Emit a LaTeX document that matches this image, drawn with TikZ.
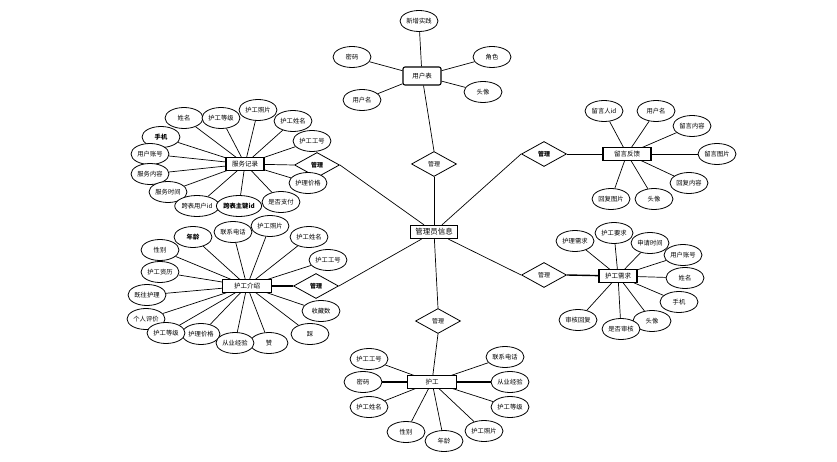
\documentclass[tikz,border=0pt]{standalone}
\usepackage{fontspec}
\newfontfamily\cjk{Noto Sans CJK SC}
\usetikzlibrary{shapes.geometric,backgrounds}
\begin{document}
\begin{tikzpicture}[x=1pt,y=-1pt,
  attr/.style={ellipse,draw,fill=white,line width=0.8pt,minimum width=38pt,minimum height=21pt,inner sep=0.3pt,font=\cjk\fontsize{6.3}{7}\selectfont},
  battr/.style={attr,font=\cjk\bfseries\fontsize{6.3}{7}\selectfont},
  ent/.style={rectangle,draw,fill=white,line width=1.1pt,minimum width=38pt,minimum height=13pt,inner sep=1pt,font=\cjk\fontsize{6.5}{7}\selectfont},
  rel/.style={diamond,draw,fill=white,line width=0.8pt,minimum width=45pt,minimum height=25pt,inner sep=0pt,font=\cjk\fontsize{6}{7}\selectfont},
  conn/.style={line width=0.7pt},
  tconn/.style={line width=1.4pt}]
\useasboundingbox (0,0) rectangle (837,462);

% admin
\node[ent,line width=1.2pt,minimum width=47pt,font=\cjk\fontsize{7.5}{8}\selectfont] (adm) at (434,232) {管理员信息};

% user table
\node[ent,rounded corners=2pt,minimum height=18pt] (ut) at (422,76) {用户表};
\node[attr] (u1) at (419,21) {新增实践};
\node[attr] (u2) at (352,57) {密码};
\node[attr] (u3) at (362,100) {用户名};
\node[attr] (u4) at (492,57) {角色};
\node[attr] (u5) at (483,92) {头像};
\node[rel] (d1) at (434,164) {管理};

% service record
\node[ent] (sr) at (245,164) {服务记录};
\node[rel,font=\cjk\bfseries\fontsize{6}{7}\selectfont] (d2) at (317,165) {管理};
\node[attr] (s1) at (184,118) {姓名};
\node[attr] (s2) at (221,118) {护工等级};
\node[attr] (s4) at (293,121) {护工姓名};
\node[attr] (s3) at (258,110) {护工照片};
\node[attr] (s5) at (312,141) {护工工号};
\node[battr] (s6) at (161,137) {手机};
\node[attr] (s7) at (150,154) {用户账号};
\node[attr] (s8) at (150,174) {服务内容};
\node[attr] (s9) at (168,192) {服务时间};
\node[attr] (s10) at (308,183) {护理价格};
\node[attr] (s11) at (197,206) {跨表用户id};
\node[attr] (s13) at (281,202) {是否支付};
\node[battr] (s12) at (239,206) {跨表主键id};

% nurse introduction
\node[ent,minimum width=49pt] (ji) at (247,286) {护工介绍};
\node[rel,font=\cjk\bfseries\fontsize{6}{7}\selectfont] (d3) at (316,286) {管理};
\node[battr] (j1) at (193,237) {年龄};
\node[attr] (j2) at (233,232) {联系电话};
\node[attr] (j4) at (309,237) {护工姓名};
\node[attr] (j3) at (270,226) {护工照片};
\node[attr] (j5) at (328,260) {护工工号};
\node[attr] (j6) at (160,250) {性别};
\node[attr] (j7) at (160,272) {护工资历};
\node[attr] (j8) at (147,295) {既往护理};
\node[attr] (j9) at (146,319) {个人评价};
\node[attr] (j11) at (201,334) {护理价格};
\node[attr] (j10) at (166,333) {护工等级};
\node[attr] (j13) at (269,343) {赞};
\node[attr] (j12) at (235,343) {从业经验};
\node[attr] (j14) at (310,334) {踩};
\node[attr] (j15) at (321,311) {收藏数};

% nurse
\node[ent,minimum width=49pt] (hg) at (432,382) {护工};
\node[rel] (d4) at (438,321) {管理};
\node[attr] (h1) at (369,359) {护工工号};
\node[attr] (h2) at (363,382) {密码};
\node[attr] (h3) at (369,407) {护工姓名};
\node[attr] (h4) at (406,432) {性别};
\node[attr] (h6) at (484,431) {护工照片};
\node[attr] (h5) at (444,441) {年龄};
\node[attr] (h7) at (505,357) {联系电话};
\node[attr] (h8) at (510,382) {从业经验};
\node[attr] (h9) at (510,407) {护工等级};

% feedback
\node[ent,minimum width=48pt] (lf) at (627,154) {留言反馈};
\node[rel,font=\cjk\bfseries\fontsize{6}{7}\selectfont] (d5) at (544,154) {管理};
\node[attr] (f1) at (604,111) {留言人id};
\node[attr] (f2) at (656,111) {用户名};
\node[attr] (f3) at (692,126) {留言内容};
\node[attr] (f4) at (717,154) {留言图片};
\node[attr] (f5) at (689,183) {回复内容};
\node[attr] (f6) at (611,199) {回复图片};
\node[attr] (f7) at (654,199) {头像};

% requirement
\node[ent] (xq) at (618,276) {护工需求};
\node[rel] (d6) at (544,275) {管理};
\node[attr] (q1) at (575,241) {护理需求};
\node[attr] (q3) at (650,243) {申请时间};
\node[attr] (q2) at (614,233) {护工要求};
\node[attr] (q4) at (683,255) {用户账号};
\node[attr] (q5) at (685,278) {姓名};
\node[attr] (q6) at (679,302) {手机};
\node[attr] (q9) at (578,320) {审核回复};
\node[attr] (q7) at (652,321) {头像};
\node[attr] (q8) at (621,329) {是否审核};

\begin{pgfonlayer}{background}
\foreach \a in {u1,u2,u3,u4,u5} \draw[conn] (ut) -- (\a);
\draw[conn] (ut) -- (d1.north);
\draw[conn] (d1.south) -- (adm);
\foreach \a in {s1,s2,s3,s4,s5,s6,s7,s8,s9,s10,s11,s12,s13} \draw[conn] (sr.center) -- (\a);
\draw[conn] (sr) -- (d2.west);
\draw[conn] (d2.east) -- (adm);
\foreach \a in {j1,j2,j3,j4,j5,j6,j7,j8,j9,j10,j11,j12,j13,j14,j15} \draw[conn] (ji.center) -- (\a);
\draw[tconn] (ji) -- (d3.west);
\draw[conn] (d3.east) -- (adm);
\foreach \a in {h1,h3,h4,h5,h6,h7,h9} \draw[conn] (hg.center) -- (\a);
\draw[tconn] (hg) -- (h2);
\draw[tconn] (hg) -- (h8);
\draw[conn] (hg) -- (d4.south);
\draw[conn] (d4.north) -- (adm);
\foreach \a in {f1,f2,f3,f4,f5,f6,f7} \draw[conn] (lf.center) -- (\a);
\draw[conn] (lf) -- (d5.east);
\draw[conn] (d5.west) -- (adm);
\foreach \a in {q1,q2,q3,q4,q5,q6,q7,q8,q9} \draw[conn] (xq.center) -- (\a);
\draw[tconn] (xq) -- (d6.east);
\draw[conn] (d6.west) -- (adm);
\end{pgfonlayer}
\end{tikzpicture}
\end{document}
